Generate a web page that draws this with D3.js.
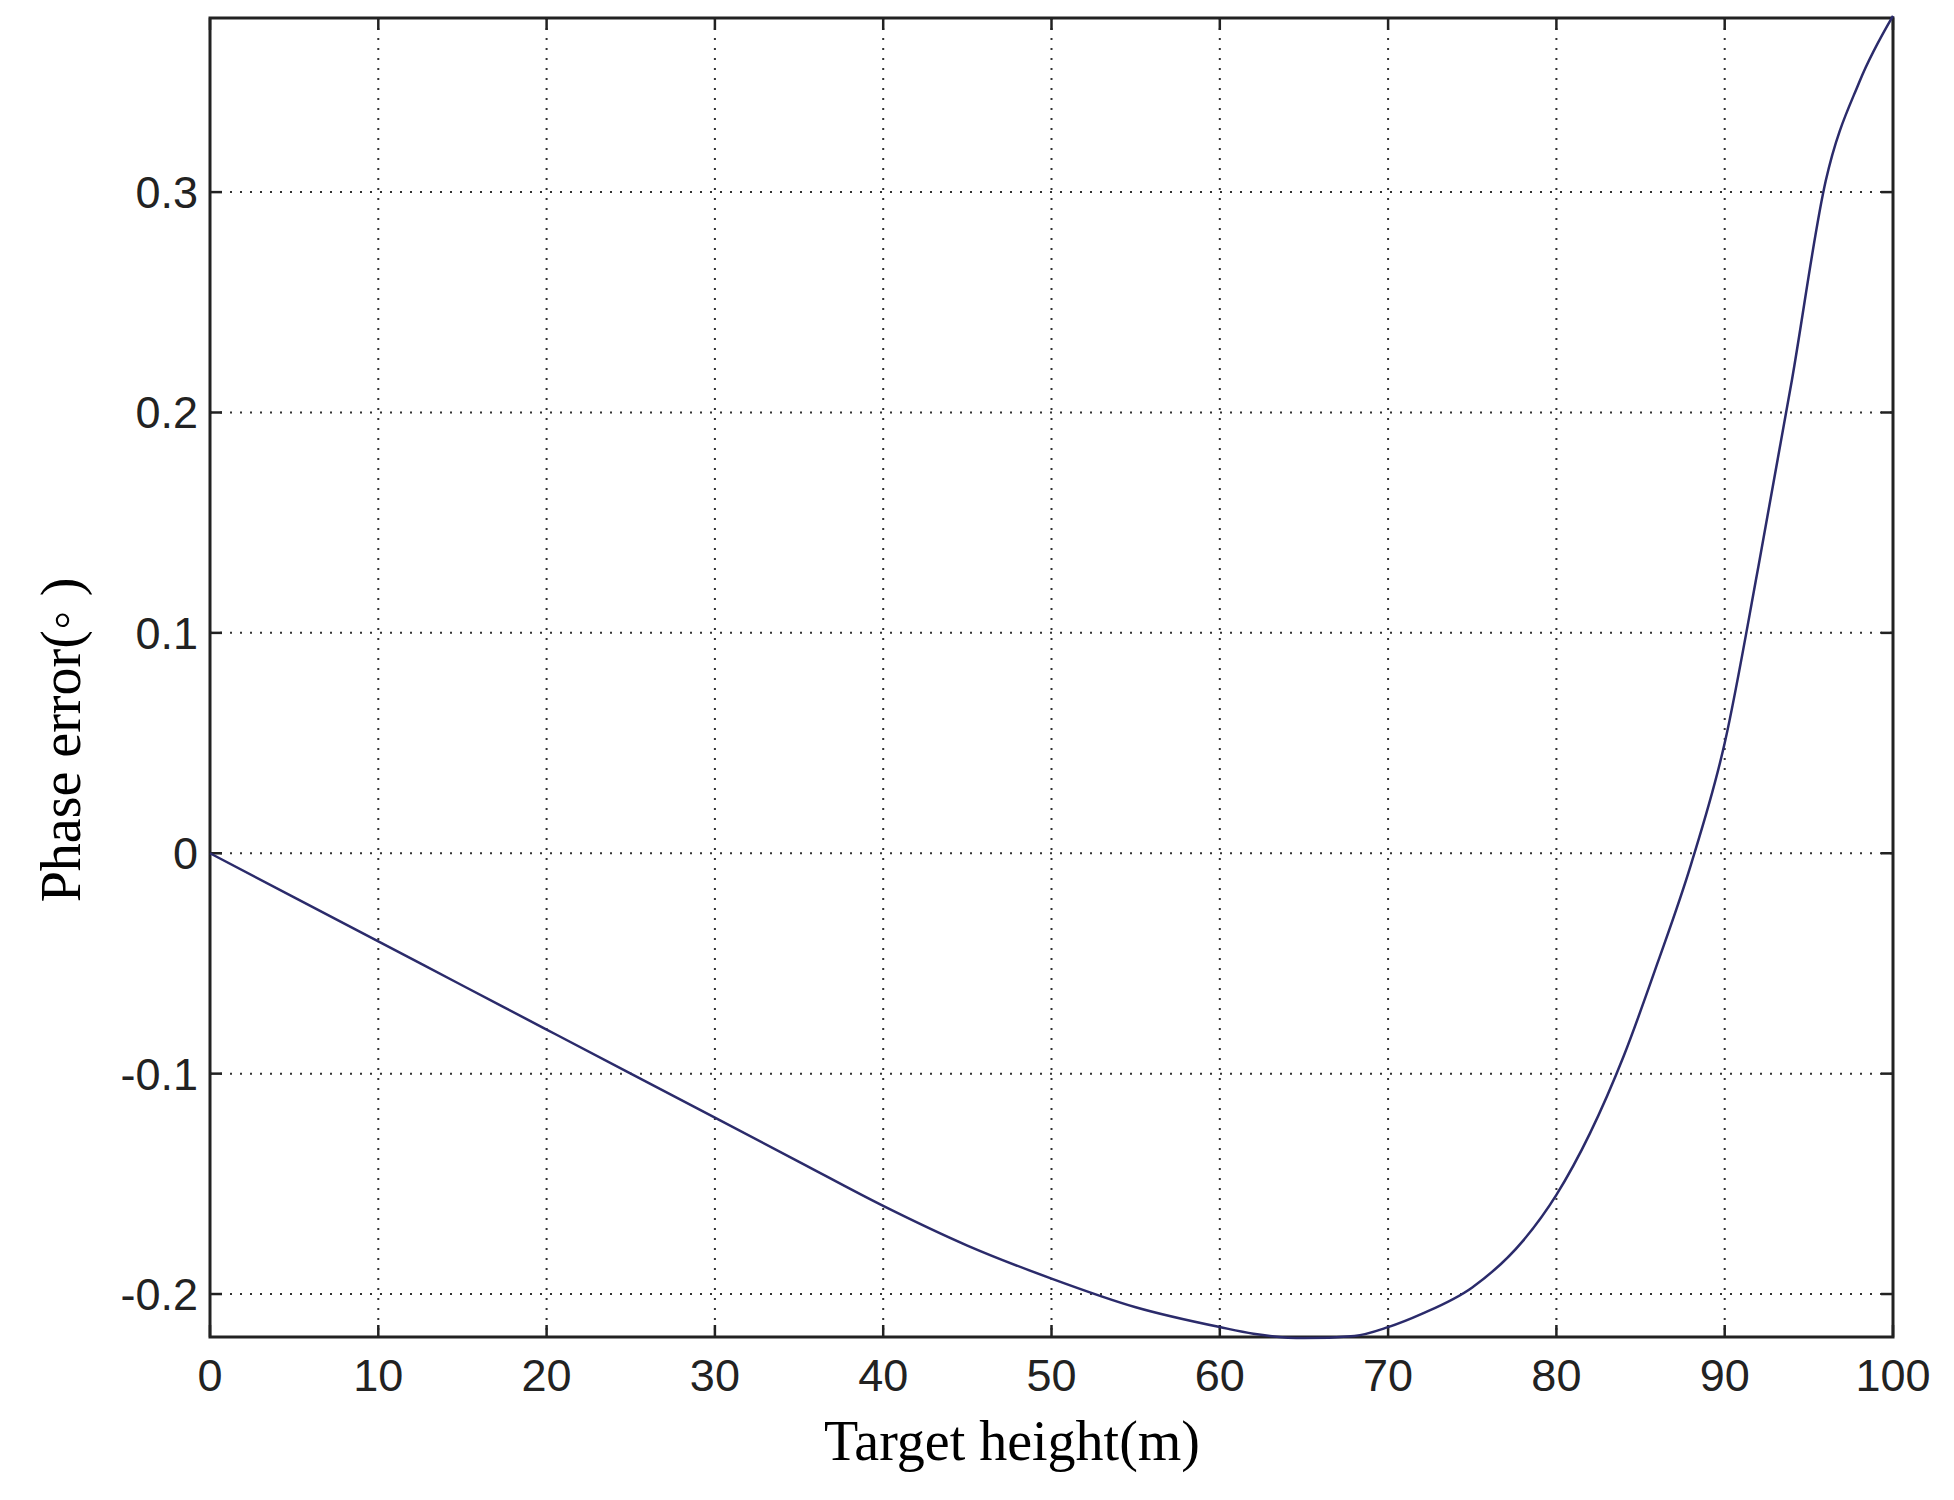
<!DOCTYPE html>
<html><head><meta charset="utf-8">
<script src="https://cdn.jsdelivr.net/npm/d3@7"></script>
<style>body{margin:0;background:#fff}</style></head>
<body><svg id="c" width="1954" height="1500"></svg>
<script>
const xs=[0,5,10,15,20,25,30,35,40,45,50,55,60,62,65,68,70,72,75,78,80,82,84,86,88,90,92,94,96,98,100];
const ys=[0,-0.02,-0.04,-0.06,-0.08,-0.1,-0.12,-0.14,-0.16,-0.178,-0.193,-0.206,-0.215,-0.218,-0.22,-0.219,-0.215,-0.209,-0.197,-0.176,-0.155,-0.127,-0.092,-0.05,-0.005,0.05,0.13,0.215,0.305,0.35,0.38];
const xTicks=[0,10,20,30,40,50,60,70,80,90,100];
const yTicks=[-0.2,-0.1,0,0.1,0.2,0.3];
const L=210,R=1893,T=18,B=1337;
const x=d3.scaleLinear().domain([0,100]).range([L,R]);
const y=d3.scaleLinear().domain([-0.2195,0.379]).range([B,T]);
const s=d3.select("#c");
const g=s.append("g");
xTicks.forEach(t=>{g.append("line").attr("x1",x(t)).attr("x2",x(t)).attr("y1",T).attr("y2",B).attr("stroke","#333").attr("stroke-width",2).attr("stroke-dasharray","2,8");});
yTicks.forEach(t=>{g.append("line").attr("x1",L).attr("x2",R).attr("y1",y(t)).attr("y2",y(t)).attr("stroke","#333").attr("stroke-width",2).attr("stroke-dasharray","2,8");});
xTicks.forEach(t=>{[[B,B-12],[T,T+12]].forEach(([a,b])=>g.append("line").attr("x1",x(t)).attr("x2",x(t)).attr("y1",a).attr("y2",b).attr("stroke","#222").attr("stroke-width",2.5));
 g.append("text").attr("x",x(t)).attr("y",B+54).attr("text-anchor","middle").attr("font-family","Liberation Sans, Arial").attr("font-size",45).attr("fill","#222").text(t);});
yTicks.forEach(t=>{[[L,L+12],[R,R-12]].forEach(([a,b])=>g.append("line").attr("x1",a).attr("x2",b).attr("y1",y(t)).attr("y2",y(t)).attr("stroke","#222").attr("stroke-width",2.5));
 g.append("text").attr("x",L-12).attr("y",y(t)+16).attr("text-anchor","end").attr("font-family","Liberation Sans, Arial").attr("font-size",45).attr("fill","#222").text(t);});
g.append("rect").attr("x",L).attr("y",T).attr("width",R-L).attr("height",B-T).attr("fill","none").attr("stroke","#222").attr("stroke-width",3);
const line=d3.line().x((d,i)=>x(xs[i])).y(d=>y(d)).curve(d3.curveMonotoneX);
g.append("path").attr("d",line(ys)).attr("fill","none").attr("stroke","#2b2b6b").attr("stroke-width",2.5);
s.append("text").attr("x",1012).attr("y",1460).attr("text-anchor","middle").attr("font-family","Liberation Serif, Times New Roman").attr("font-size",56).attr("fill","#000").text("Target height(m)");
s.append("text").attr("transform","translate(80,740) rotate(-90)").attr("text-anchor","middle").attr("font-family","Liberation Serif, Times New Roman").attr("font-size",56).attr("fill","#000").text("Phase error(◦ )");
</script></body></html>
